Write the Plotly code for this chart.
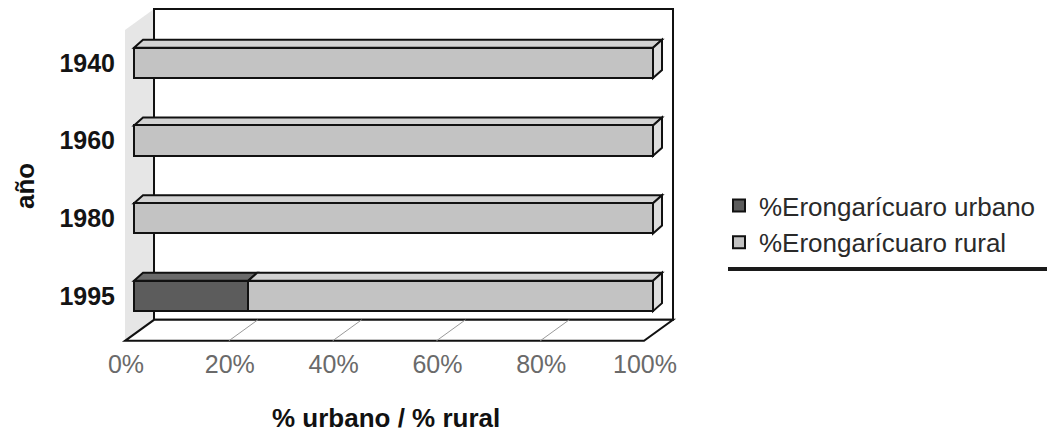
import plotly.graph_objects as go

# Share of urban / rural population in Erongarícuaro, by year
anios = ["1940", "1960", "1980", "1995"]
urbano = [0, 0, 0, 22]
rural = [100, 100, 100, 78]
ticks_x = [0, 20, 40, 60, 80, 100]
ticks_x_text = ["0%", "20%", "40%", "60%", "80%", "100%"]
serie_urbano = "%Erongarícuaro urbano"
serie_rural = "%Erongarícuaro rural"

# Canvas and plot-area geometry
W, H = 1047, 432
ML, MR, MT, MB = 120, 367, 5, 89
X_RANGE = [-2.7, 105.2]
Y_RANGE = [-0.605, 3.745]
PW = W - ML - MR
PH = H - MT - MB
KX = PW / (X_RANGE[1] - X_RANGE[0])
KY = PH / (Y_RANGE[1] - Y_RANGE[0])


def ux(px):
    """Horizontal pixel offset -> data units."""
    return px / KX


def uy(px):
    """Vertical pixel offset (screen, downward) -> data units."""
    return -px / KY


# Pseudo-3D offsets (screen pixels) relative to the plane of the bar fronts
FRONT = (ux(-9), uy(6))     # front edge of floor / side wall
BACK = (ux(20), uy(-15))    # back wall
DEPTH = (ux(9), uy(-8))     # thickness of each bar

BAR_W = 0.39
C_URB, C_URB_TOP = "#5c5c5c", "#6a6a6a"
C_RUR, C_RUR_TOP, C_RUR_END = "#c3c3c3", "#d2d2d2", "#dedede"
EDGE = "#111111"

n = len(anios)
ypos = [n - 1 - i for i in range(n)]          # 1940 on top, 1995 at bottom
y_lo, y_hi = -0.5, n - 0.5
x_lo, x_hi = ticks_x[0], ticks_x[-1]


def path(points):
    return "M " + " L ".join(f"{x},{y}" for x, y in points) + " Z"


shapes = []
# left side wall
shapes.append(dict(type="path", layer="below", line=dict(width=0), fillcolor="#e6e6e6",
                   path=path([(x_lo + FRONT[0], y_lo + FRONT[1]), (x_lo + FRONT[0], y_hi + FRONT[1]),
                              (x_lo + BACK[0], y_hi + BACK[1]), (x_lo + BACK[0], y_lo + BACK[1])])))
# back wall
shapes.append(dict(type="path", layer="below", line=dict(width=2, color=EDGE), fillcolor="white",
                   path=path([(x_lo + BACK[0], y_lo + BACK[1]), (x_hi + BACK[0], y_lo + BACK[1]),
                              (x_hi + BACK[0], y_hi + BACK[1]), (x_lo + BACK[0], y_hi + BACK[1])])))
# floor
shapes.append(dict(type="path", layer="below", line=dict(width=2, color=EDGE), fillcolor="white",
                   path=path([(x_lo + FRONT[0], y_lo + FRONT[1]), (x_hi + FRONT[0], y_lo + FRONT[1]),
                              (x_hi + BACK[0], y_lo + BACK[1]), (x_lo + BACK[0], y_lo + BACK[1])])))
# floor gridlines
for t in ticks_x[1:-1]:
    shapes.append(dict(type="line", layer="below", line=dict(width=1, color="#9a9a9a"),
                       x0=t + FRONT[0], y0=y_lo + FRONT[1], x1=t + BACK[0], y1=y_lo + BACK[1]))

# top and end faces of the bars
for yp, u, r in zip(ypos, urbano, rural):
    top, bot = yp + BAR_W / 2, yp - BAR_W / 2
    segs = [(0, u, C_URB_TOP), (u, u + r, C_RUR_TOP)]
    for s, e, col in segs:
        if e - s <= 0:
            continue
        shapes.append(dict(type="path", layer="below", line=dict(width=2, color=EDGE), fillcolor=col,
                           path=path([(s, top), (e, top), (e + DEPTH[0], top + DEPTH[1]),
                                      (s + DEPTH[0], top + DEPTH[1])])))
    e = u + r
    shapes.append(dict(type="path", layer="below", line=dict(width=2, color=EDGE), fillcolor=C_RUR_END,
                       path=path([(e, top), (e + DEPTH[0], top + DEPTH[1]),
                                  (e + DEPTH[0], bot + DEPTH[1]), (e, bot)])))

# rule under the legend
shapes.append(dict(type="line", xref="paper", yref="paper", layer="above",
                   x0=(728 - ML) / PW, x1=(W - ML) / PW,
                   y0=(H - MB - 269) / PH, y1=(H - MB - 269) / PH,
                   line=dict(width=4, color="#1a1a1a")))

fig = go.Figure()
fig.add_trace(go.Bar(y=ypos, x=urbano, orientation="h", name=serie_urbano, width=BAR_W,
                     marker=dict(color=C_URB, line=dict(width=2, color=EDGE))))
fig.add_trace(go.Bar(y=ypos, x=rural, orientation="h", name=serie_rural, width=BAR_W,
                     marker=dict(color=C_RUR, line=dict(width=2, color=EDGE))))

FONT = "Liberation Sans, Arial, sans-serif"
fig.update_layout(
    width=W, height=H,
    margin=dict(l=ML, r=MR, t=MT, b=MB),
    paper_bgcolor="white", plot_bgcolor="white",
    barmode="stack", bargap=0,
    font=dict(family=FONT),
    shapes=shapes,
    showlegend=True,
    legend=dict(x=(719 - ML) / PW, xanchor="left", y=(H - MB - 182) / PH, yanchor="top",
                traceorder="normal", bgcolor="rgba(0,0,0,0)", borderwidth=0,
                font=dict(size=26, color="#2a2a2a", family=FONT)),
    xaxis=dict(range=X_RANGE, showgrid=False, zeroline=False, showline=False,
               tickvals=ticks_x, ticktext=ticks_x_text, ticks="",
               ticklabelshift=-8, ticklabelstandoff=4,
               tickfont=dict(size=25, color="#6a6a6a", family=FONT)),
    yaxis=dict(range=Y_RANGE, showgrid=False, zeroline=False, showline=False,
               tickvals=ypos, ticktext=anios, ticks="", ticklabelstandoff=4,
               tickfont=dict(size=25, color="#141414", family=FONT, weight="bold")),
    annotations=[
        dict(text="<b>% urbano / % rural</b>", xref="paper", yref="paper",
             x=(386 - ML) / PW, y=(H - MB - 418) / PH, xanchor="center", yanchor="middle",
             showarrow=False, font=dict(size=26, color="#111111", family=FONT)),
        dict(text="<b>año</b>", xref="paper", yref="paper", textangle=-90,
             x=(25 - ML) / PW, y=(H - MB - 186) / PH, xanchor="center", yanchor="middle",
             showarrow=False, font=dict(size=26, color="#111111", family=FONT)),
    ],
)

fig.write_html("out.html")
